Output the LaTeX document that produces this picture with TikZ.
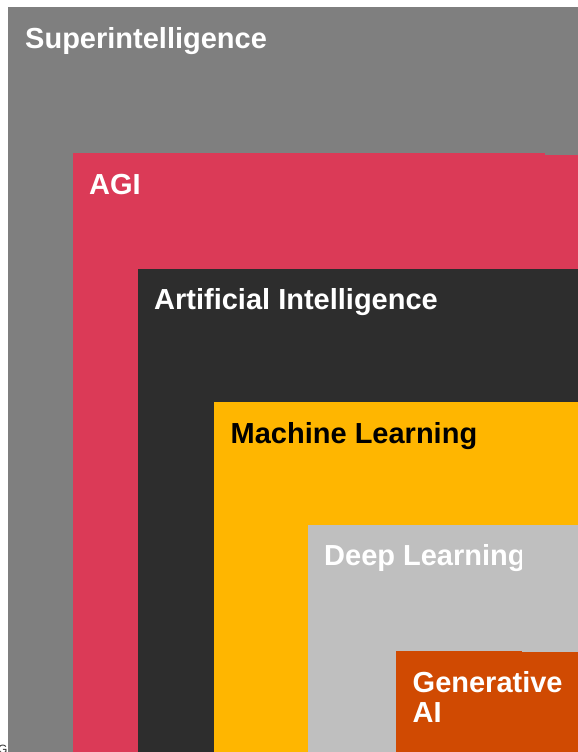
\documentclass[tikz,border=0pt]{standalone}
\usepackage{fontspec}
\setmainfont{Liberation Sans}
\definecolor{cSuper}{HTML}{7F7F7F}
\definecolor{cAGI}{HTML}{DB3A57}
\definecolor{cAI}{HTML}{2D2D2D}
\definecolor{cML}{HTML}{FFB600}
\definecolor{cDL}{HTML}{BFBFBF}
\definecolor{cGen}{HTML}{D04A02}
\begin{document}
\begin{tikzpicture}[x=1pt,y=-1pt,
  layer/.style={inner sep=0pt, outer sep=0pt},
  lbl/.style={anchor=base west, inner sep=0pt, font=\fontsize{29}{30}\selectfont\bfseries, text=white}]
\useasboundingbox (0,0) rectangle (578,752);
\fill[white] (0,0) rectangle (578,752);
% layers
\fill[cSuper] (8,7) rectangle (578,752);
\node[layer] (super) at (8,7) {};
\fill[cAGI] (73,153) rectangle (545,752);
\fill[cAGI] (545,155) rectangle (578,752);
\node[layer] (agi) at (73,153) {};
\fill[cAI] (138,269) rectangle (578,752);
\node[layer] (ai) at (138,269) {};
\fill[cML] (214,402) rectangle (578,752);
\node[layer] (ml) at (214,402) {};
\fill[cDL] (308,525) rectangle (578,752);
\node[layer] (dl) at (308,525) {};
% labels
\node[lbl] (tSuper) at (25,48.5) {Superintelligence};
\node[lbl] (tAGI) at (89,194.5) {AGI};
\node[lbl] (tAI) at (154,309.5) {Artificial Intelligence};
\node[lbl, text=black] (tML) at (230.5,443) {Machine Learning};
\begin{scope}
\clip (308,525) rectangle (521,752);
\node[lbl] (tDL) at (324,565.5) {Deep Learning};
\end{scope}
\fill[cGen] (396,651) rectangle (522,752);
\fill[cGen] (522,652) rectangle (578,752);
\node[layer] (gen) at (396,651) {};
\node[lbl] (tGen1) at (412.5,692.5) {Generative};
\node[lbl] (tGen2) at (412.5,722.5) {AI};
\node[anchor=base west, inner sep=0pt, font=\fontsize{12}{12}\selectfont, text=cAI] (g) at (-2,753) {G};
\end{tikzpicture}
\end{document}
